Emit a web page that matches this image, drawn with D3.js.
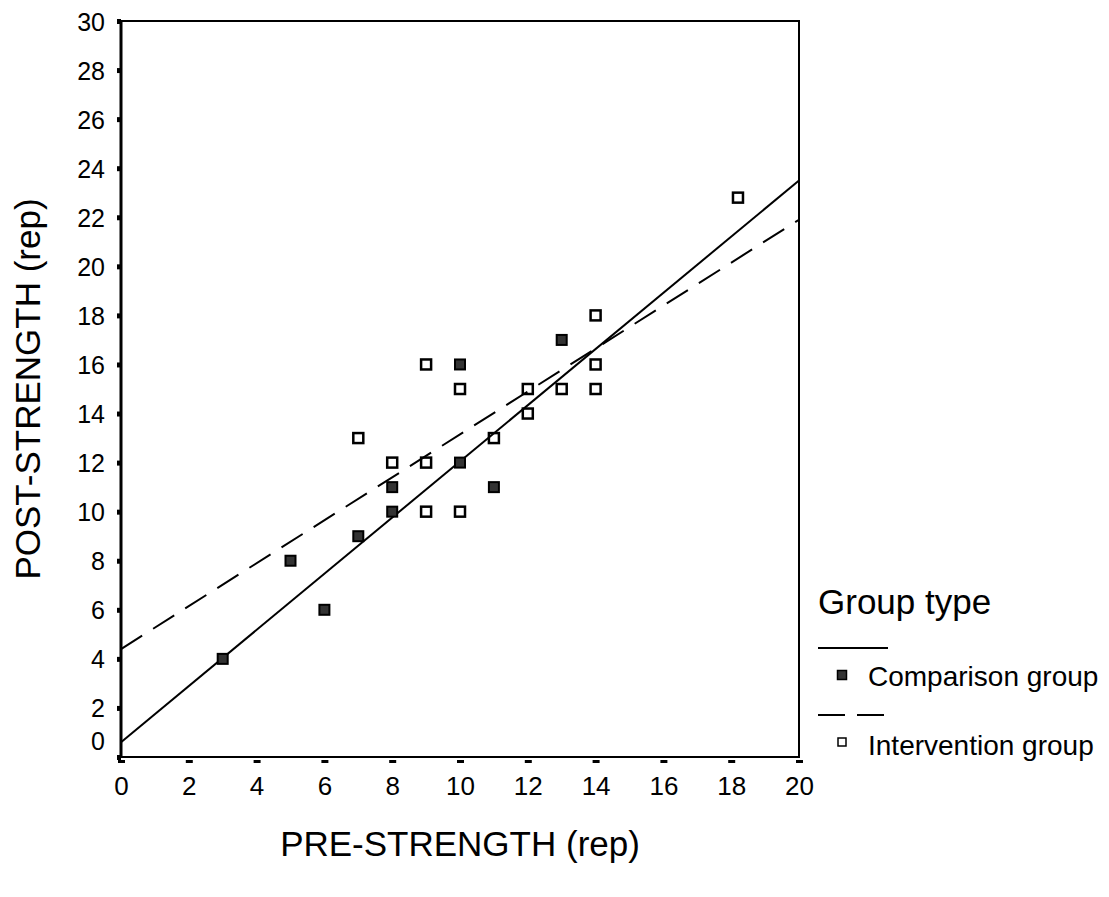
<!DOCTYPE html>
<html lang="en">
  <head>
    <meta charset="UTF-8" />
    <title>pre-post-strength</title>
    <style>
      body {
        margin: 0;
        background: #fff;
        font-family: "Liberation Sans", Arial, Helvetica, sans-serif;
      }
      svg {
        display: block;
      }
      .tick text {
        fill: #000;
        font-family: "Liberation Sans", Arial, sans-serif;
      }
      .y-axis .tick text {
        font-size: 25px;
      }
      .x-axis .tick text {
        font-size: 26px;
      }
      .tick line {
        stroke: #000;
      }
      .axis-title {
        font-size: 35px;
        text-anchor: middle;
      }
      .legend-title {
        font-size: 35px;
      }
      .legend-label {
        font-size: 28px;
      }
    </style>
  </head>
  <body>
    <script src="https://cdn.jsdelivr.net/npm/d3@7"></script>
    <script>
      const groups = ["Comparison group", "Intervention group"];

      const comparisonPre = [3, 5, 6, 7, 8, 8, 10, 10, 11, 13];
      const comparisonPost = [4, 8, 6, 9, 11, 10, 16, 12, 11, 17];

      const interventionPre = [7, 8, 9, 9, 9, 10, 10, 11, 12, 12, 13, 14, 14, 14, 18.2];
      const interventionPost = [13, 12, 16, 12, 10, 15, 10, 13, 15, 14, 15, 18, 16, 15, 22.8];

      // fit lines, [pre, post] at each end
      const comparisonFit = [[0, 0.6], [20, 23.5]];
      const interventionFit = [[0, 4.4], [20, 21.9]];

      const xTicks = [0, 2, 4, 6, 8, 10, 12, 14, 16, 18, 20];
      const yTicks = [0, 2, 4, 6, 8, 10, 12, 14, 16, 18, 20, 22, 24, 26, 28, 30];

      const width = 1109;
      const height = 897;
      const plotLeft = 121;
      const plotRight = 799;
      const plotTop = 21;
      const plotBottom = 757;

      const svg = d3
        .select("body")
        .append("svg")
        .attr("width", width)
        .attr("height", height);

      const x = d3.scaleLinear().domain([0, 20]).range([plotLeft, plotRight]);
      const y = d3.scaleLinear().domain([0, 30]).range([plotBottom, plotTop]);

      // frame
      svg
        .append("rect")
        .attr("x", plotLeft)
        .attr("y", plotTop)
        .attr("width", plotRight - plotLeft)
        .attr("height", plotBottom - plotTop)
        .attr("fill", "none")
        .attr("stroke", "#000")
        .attr("stroke-width", 2);

      svg
        .append("line")
        .attr("x1", plotLeft)
        .attr("x2", plotLeft)
        .attr("y1", plotTop - 1)
        .attr("y2", plotBottom + 1)
        .attr("stroke", "#000")
        .attr("stroke-width", 3);

      // y axis, small square ticks on the left
      const yAxis = svg
        .append("g")
        .attr("class", "y-axis")
        .attr("transform", `translate(${plotLeft},0)`)
        .call(d3.axisLeft(y).tickValues(yTicks).tickSize(4).tickPadding(12));
      yAxis.select(".domain").remove();
      yAxis.selectAll(".tick line").attr("stroke-width", 5);
      yAxis
        .selectAll(".tick text")
        .attr("dy", "0.36em")
        .attr("y", d => (d === 0 ? -17 : 0));

      // x axis
      const xAxis = svg
        .append("g")
        .attr("class", "x-axis")
        .attr("transform", `translate(0,${plotBottom})`)
        .call(d3.axisBottom(x).tickValues(xTicks).tickSize(6));
      xAxis.select(".domain").remove();
      xAxis.selectAll(".tick line").attr("y1", 3).attr("stroke-width", 7);
      xAxis.selectAll(".tick text").attr("y", 38).attr("dy", 0);

      // axis titles
      svg
        .append("text")
        .attr("class", "axis-title")
        .attr("x", (plotLeft + plotRight) / 2)
        .attr("y", 856)
        .text("PRE-STRENGTH (rep)");

      svg
        .append("text")
        .attr("class", "axis-title")
        .attr("transform", `translate(40,${(plotTop + plotBottom) / 2}) rotate(-90)`)
        .text("POST-STRENGTH (rep)");

      // fit lines
      const line = d3
        .line()
        .x(d => x(d[0]))
        .y(d => y(d[1]));

      svg
        .append("path")
        .datum(comparisonFit)
        .attr("d", line)
        .attr("fill", "none")
        .attr("stroke", "#000")
        .attr("stroke-width", 2);

      svg
        .append("path")
        .datum(interventionFit)
        .attr("d", line)
        .attr("fill", "none")
        .attr("stroke", "#000")
        .attr("stroke-width", 2)
        .attr("stroke-dasharray", "25,13");

      // points
      const comparison = comparisonPre.map((d, i) => [d, comparisonPost[i]]);
      const intervention = interventionPre.map((d, i) => [d, interventionPost[i]]);
      const size = 10;

      svg
        .append("g")
        .selectAll("rect")
        .data(intervention)
        .enter()
        .append("rect")
        .attr("x", d => x(d[0]) - size / 2)
        .attr("y", d => y(d[1]) - size / 2)
        .attr("width", size)
        .attr("height", size)
        .attr("fill", "none")
        .attr("stroke", "#000")
        .attr("stroke-width", 2.5);

      svg
        .append("g")
        .selectAll("rect")
        .data(comparison)
        .enter()
        .append("rect")
        .attr("x", d => x(d[0]) - size / 2)
        .attr("y", d => y(d[1]) - size / 2)
        .attr("width", size)
        .attr("height", size)
        .attr("fill", "#333")
        .attr("stroke", "#000")
        .attr("stroke-width", 2);

      // legend
      const legend = svg.append("g").attr("transform", "translate(818,0)");

      legend
        .append("text")
        .attr("class", "legend-title")
        .attr("x", 0)
        .attr("y", 614)
        .text("Group type");

      legend
        .append("line")
        .attr("x1", 0)
        .attr("x2", 70)
        .attr("y1", 648)
        .attr("y2", 648)
        .attr("stroke", "#000")
        .attr("stroke-width", 2);

      legend
        .append("rect")
        .attr("x", 24 - 4.5)
        .attr("y", 675 - 4.5)
        .attr("width", 9)
        .attr("height", 9)
        .attr("fill", "#333")
        .attr("stroke", "#000")
        .attr("stroke-width", 1.5);

      legend
        .append("text")
        .attr("class", "legend-label")
        .attr("x", 50)
        .attr("y", 686)
        .text(groups[0]);

      legend
        .append("line")
        .attr("x1", 0)
        .attr("x2", 70)
        .attr("y1", 715)
        .attr("y2", 715)
        .attr("stroke", "#000")
        .attr("stroke-width", 2)
        .attr("stroke-dasharray", "27,12");

      legend
        .append("rect")
        .attr("x", 24 - 4)
        .attr("y", 742 - 4)
        .attr("width", 8)
        .attr("height", 8)
        .attr("fill", "none")
        .attr("stroke", "#000")
        .attr("stroke-width", 1.5);

      legend
        .append("text")
        .attr("class", "legend-label")
        .attr("x", 50)
        .attr("y", 755)
        .text(groups[1]);
    </script>
  </body>
</html>
